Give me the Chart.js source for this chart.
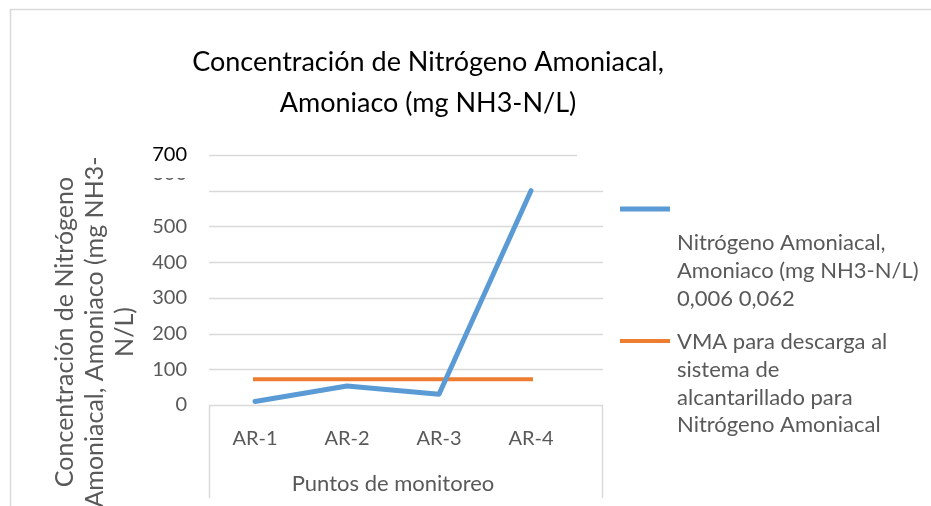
<!DOCTYPE html>
<html>
<head>
<meta charset="utf-8">
<script src="https://cdn.jsdelivr.net/npm/chart.js@4.4.1/dist/chart.umd.min.js"></script>
<style>
  html, body { margin: 0; padding: 0; background: #ffffff; }
  #wrap { position: relative; width: 931px; height: 506px; overflow: hidden; }
</style>
</head>
<body>
<div id="wrap"><canvas id="c" width="931" height="506"></canvas></div>
<script>
// ---- data ----
const categories = ['AR-1', 'AR-2', 'AR-3', 'AR-4'];
const nitrogeno = [10, 53, 30, 600];
const vma = [72, 72, 72, 72];
const yTicks = [0, 100, 200, 300, 400, 500, 600, 700];
const titleLines = ['Concentración de Nitrógeno Amoniacal,', 'Amoniaco (mg NH3-N/L)'];
const yTitleLines = ['Concentración de Nitrógeno', 'Amoniacal, Amoniaco (mg NH3-', 'N/L)'];
const xTitle = 'Puntos de monitoreo';
const seriesNames = [
  'Nitrógeno Amoniacal, Amoniaco (mg NH3-N/L) 0,006 0,062',
  'VMA para descarga al sistema de alcantarillado para Nitrógeno Amoniacal'
];
const legendLines = [
  ['Nitrógeno Amoniacal,', 'Amoniaco (mg NH3-N/L)', '0,006 0,062'],
  ['VMA para descarga al', 'sistema de', 'alcantarillado para', 'Nitrógeno Amoniacal']
];

const FONT = 'Lato, "Open Sans", sans-serif';
const GRAY = '#595959';
const GRID = '#D9D9D9';
const BLUE = '#5B9BD5';
const ORANGE = '#ED7D31';

const decor = {
  id: 'decor',
  beforeDatasetsDraw(chart) {
    const { ctx, chartArea: a } = chart;
    const ys = chart.scales.y;
    const ext = 26;
    ctx.save();
    ctx.strokeStyle = GRID;
    ctx.lineWidth = 1.5;
    yTicks.forEach(v => {
      const y = Math.round(ys.getPixelForValue(v)) + 0.5;
      const x2 = v === ys.max ? a.right : a.right + ext;
      ctx.beginPath();
      ctx.moveTo(a.left, y);
      ctx.lineTo(x2, y);
      ctx.stroke();
    });
    // category box
    const yb = ys.getPixelForValue(0);
    ctx.beginPath();
    ctx.moveTo(a.left + 0.5, yb); ctx.lineTo(a.left + 0.5, yb + 93);
    ctx.moveTo(a.right + ext - 0.5, yb); ctx.lineTo(a.right + ext - 0.5, yb + 93);
    ctx.stroke();
    ctx.restore();
  },
  afterDraw(chart) {
    const { ctx } = chart;
    const ys = chart.scales.y;
    ctx.save();
    // outer border
    ctx.strokeStyle = GRID;
    ctx.lineWidth = 1.5;
    ctx.beginPath();
    ctx.moveTo(10.5, 506); ctx.lineTo(10.5, 9.5); ctx.lineTo(931, 9.5);
    ctx.stroke();

    // clipped remnant of the 600 label
    ctx.save();
    const y6 = ys.getPixelForValue(600);
    ctx.beginPath();
    ctx.rect(140, y6 - 12.8, 60, 2.2);
    ctx.clip();
    ctx.fillStyle = GRAY;
    ctx.font = '20px ' + FONT;
    ctx.textAlign = 'right';
    ctx.textBaseline = 'alphabetic';
    ctx.fillText('600', 187, y6 - 10.6);
    ctx.restore();

    // chart title
    ctx.fillStyle = '#000';
    ctx.font = '27px ' + FONT;
    ctx.textAlign = 'center';
    ctx.textBaseline = 'alphabetic';
    ctx.fillText(titleLines[0], 428, 71);
    ctx.fillText(titleLines[1], 428, 112);

    // y axis title (rotated)
    ctx.save();
    ctx.translate(95, 332);
    ctx.rotate(-Math.PI / 2);
    ctx.fillStyle = GRAY;
    ctx.font = '25px ' + FONT;
    ctx.textAlign = 'center';
    ctx.textBaseline = 'middle';
    yTitleLines.forEach((t, i) => ctx.fillText(t, 0, (i - 1) * 30));
    ctx.restore();

    // legend
    const lx = 620, sw = 50, tx = 677;
    ctx.font = '22px ' + FONT;
    ctx.textAlign = 'left';
    ctx.textBaseline = 'alphabetic';
    const items = [
      { color: BLUE, w: 5, sy: 209, base: 250 },
      { color: ORANGE, w: 4, sy: 341, base: 349 }
    ];
    items.forEach((it, k) => {
      ctx.strokeStyle = it.color;
      ctx.lineWidth = it.w;
      ctx.beginPath();
      ctx.moveTo(lx, it.sy); ctx.lineTo(lx + sw, it.sy);
      ctx.stroke();
      ctx.fillStyle = GRAY;
      legendLines[k].forEach((t, i) => ctx.fillText(t, tx, it.base + i * 27.8));
    });
    ctx.restore();
  }
};

new Chart(document.getElementById('c'), {
  type: 'line',
  data: {
    labels: categories,
    datasets: [
      { label: seriesNames[0], data: nitrogeno, borderColor: BLUE, backgroundColor: BLUE,
        borderWidth: 5, pointRadius: 0, tension: 0, borderJoinStyle: 'round', borderCapStyle: 'round' },
      { label: seriesNames[1], data: vma, borderColor: ORANGE, backgroundColor: ORANGE,
        borderWidth: 4, pointRadius: 0, tension: 0, borderCapStyle: 'square' }
    ]
  },
  options: {
    responsive: false,
    animation: false,
    devicePixelRatio: 1,
    layout: { padding: { left: 0, right: 354, top: 155, bottom: 0 } },
    plugins: { legend: { display: false }, title: { display: false }, tooltip: { enabled: false } },
    scales: {
      x: {
        type: 'category',
        offset: true,
        grid: { display: false, drawTicks: false },
        border: { display: false },
        ticks: { color: GRAY, font: { family: FONT, size: 20 }, padding: 22, maxRotation: 0 },
        title: { display: true, text: xTitle, color: GRAY, font: { family: FONT, size: 22 }, padding: { top: 0, bottom: 9 } },
        afterFit(s) { s.height = 101; }
      },
      y: {
        min: 0, max: 700,
        grid: { display: false, drawTicks: false },
        border: { display: false },
        ticks: {
          stepSize: 100,
          padding: 22,
          font: { family: FONT, size: 20 },
          color: (c) => c.tick.value === 700 ? '#000000' : (c.tick.value === 600 ? 'rgba(0,0,0,0)' : GRAY)
        },
        afterFit(s) { s.width = 209; }
      }
    }
  },
  plugins: [decor]
});
</script>
</body>
</html>
